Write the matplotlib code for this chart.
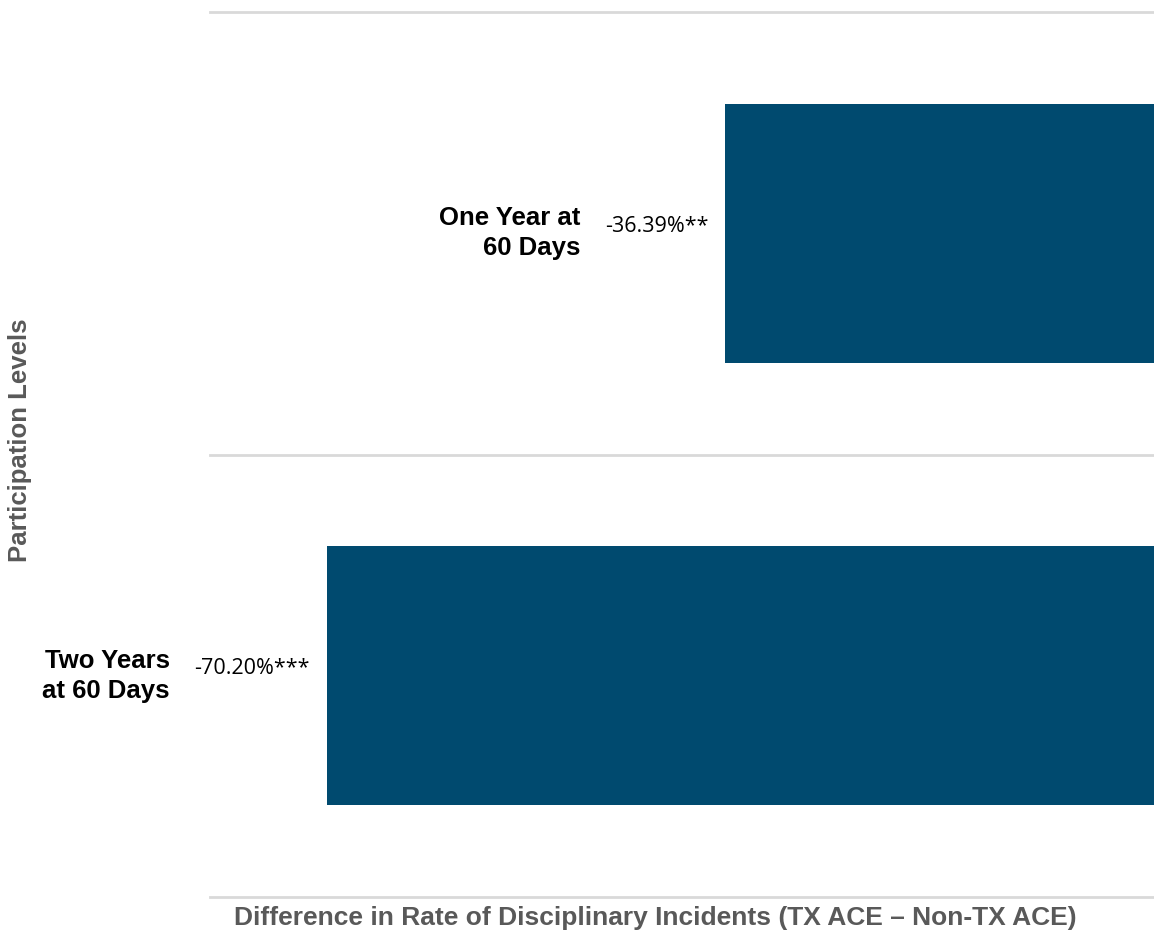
import matplotlib
matplotlib.use("Agg")
import matplotlib.pyplot as plt

categories = ["Two Years\nat 60 Days", "One Year at\n60 Days"]
values = [-70.20, -36.39]
value_labels = ["-70.20%***", "-36.39%**"]
x_title = "Difference in Rate of Disciplinary Incidents (TX ACE \u2013 Non-TX ACE)"
y_title = "Participation Levels"

BAR = "#004A6F"
GRID = "#D9D9D9"
AXIS_TXT = "#595959"

fig = plt.figure(figsize=(11.54, 9.44), dpi=100)
ax = fig.add_axes([210/1154, 47/944, 1 - 210/1154, 885/944])

pos = list(range(len(categories)))
ax.barh(pos, values, height=0.586, color=BAR, zorder=2)
ax.set_xlim(-80.1, 0)
ax.set_ylim(-0.5, len(categories) - 0.5)
for b in [p - 0.5 for p in pos] + [len(categories) - 0.5]:
    ax.axhline(b, color=GRID, lw=2, zorder=1, clip_on=False)

for p, v, vl, cat in zip(pos, values, value_labels, categories):
    t = ax.annotate(vl, xy=(v, p), xytext=(-12, 5), textcoords="offset points",
                    ha="right", va="center", fontsize=15.5, family="Open Sans",
                    color="#000000", annotation_clip=False)
    ax.annotate(cat, xy=(0, 0.5), xycoords=t, xytext=(-18, -5),
                textcoords="offset points", ha="right", va="center",
                fontsize=18.5, fontweight="bold", family="Liberation Sans",
                color="#000000", linespacing=1.3, annotation_clip=False)

ax.set_xticks([])
ax.set_yticks([])
for s in ax.spines.values():
    s.set_visible(False)

fig.text(655/1154, 1 - 918/944, x_title, ha="center", va="center",
         fontsize=19, fontweight="bold", family="Liberation Sans", color=AXIS_TXT)
fig.text(20/1154, 1 - 440/944, y_title, ha="center", va="center", rotation=90,
         fontsize=18.5, fontweight="bold", family="Liberation Sans", color=AXIS_TXT)

fig.savefig("out.png", dpi=100, facecolor="white")
